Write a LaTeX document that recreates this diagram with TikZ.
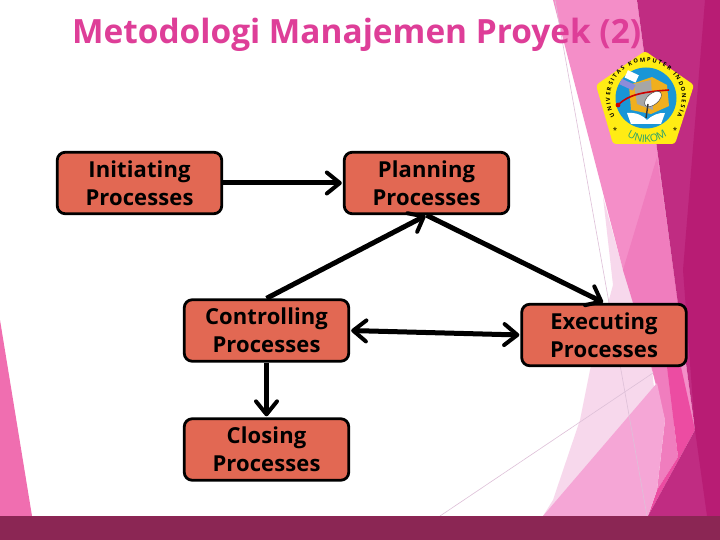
\documentclass[tikz,border=0pt]{standalone}
\usepackage{fontspec}
\setmainfont{Open Sans}
\newfontfamily\titlefont{Open Sans}
\newfontfamily\boxfont[LetterSpace=0.5]{Open Sans}
\usetikzlibrary{arrows.meta,decorations.text}
\definecolor{barc}{RGB}{139,38,84}
\definecolor{magA}{RGB}{192,44,130}
\definecolor{magB}{RGB}{184,28,116}
\definecolor{lightband}{RGB}{244,142,200}
\definecolor{lightbandB}{RGB}{240,125,190}
\definecolor{paleband}{RGB}{247,216,236}
\definecolor{midband}{RGB}{245,166,214}
\definecolor{hotband}{RGB}{236,76,162}
\definecolor{leftband}{RGB}{240,110,176}
\definecolor{hair}{RGB}{222,192,216}
\definecolor{titlec}{RGB}{222,62,152}
\definecolor{boxfill}{RGB}{226,104,83}
\definecolor{unigreen}{RGB}{40,160,110}
\definecolor{logoyellow}{RGB}{255,236,20}
\definecolor{logoblue}{RGB}{25,150,215}
\definecolor{logoorange}{RGB}{240,175,30}
\newcommand{\logotxt}{\fontsize{5.7}{6}\selectfont\bfseries}
\newcommand{\unikomtxt}{\fontsize{10.5}{10.5}\selectfont\color{unigreen}}
\tikzset{
  procbox/.style={draw=black,line width=2.8pt,fill=boxfill,rounded corners=8pt,
    minimum width=164.5pt,minimum height=61.5pt,inner sep=0pt,align=center,
    font=\boxfont\fontsize{22}{28}\selectfont\bfseries,text=black},
  barbtip/.tip={Straight Barb[length=13pt,width=21pt,line width=4pt,round]},
  flow/.style={line width=5pt,black,-barbtip,shorten >=1pt},
  hairline/.style={draw=hair,line width=0.6pt},
}
\begin{document}
\begin{tikzpicture}[x=1pt,y=-1pt]
\useasboundingbox (0,0) rectangle (720,540);
\fill[white] (0,0) rectangle (720,540);
% background facets
\fill[paleband] (603,197) -- (623,270) -- (633,300) -- (652,370) -- (660,440) -- (640,516) -- (543,516) -- (553,500) -- (580,420) -- (590,370) -- (613,285) -- cycle;
\fill[lightband] (553,0) -- (637,0) -- (695,430) -- (665,420) -- (652,370) -- (633,300) -- (623,270) -- cycle;
\fill[lightbandB] (657,157) -- (623,270) -- (633,303) -- (678,303) -- cycle;
\fill[lightbandB] (652,367) -- (667,367) -- (678,457) -- (657,490) -- (665,420) -- cycle;
\fill[hotband] (667,367) -- (681,367) -- (695,430) -- (648,516) -- (657,490) -- (678,457) -- cycle;
\fill[midband] (543,516) -- (657,383) -- (665,420) -- (657,490) -- (648,516) -- cycle;
\fill[magA] (637,0) -- (720,0) -- (720,516) -- (648,516) -- (695,430) -- cycle;
\fill[magB] (705,0) -- (720,0) -- (720,516) -- (707,516) -- (695,430) -- (683,270) -- cycle;
\fill[leftband] (0,320) -- (32,516) -- (0,516) -- cycle;
\draw[hairline] (555,0) -- (647,516);
\draw[hairline] (440,516) -- (653,373);
\fill[barc] (0,516) rectangle (720,540);
% title
\node[anchor=base west,inner sep=0pt,text=titlec,font=\titlefont\fontsize{33.4}{36}\selectfont\bfseries] (title) at (72,44) {Metodologi Manajemen Proyek (2)};
% logo
\fill[logoyellow,rounded corners=3pt] (645,51) -- (694,85) -- (675,144) -- (613,144) -- (596,85) -- cycle;
\fill[logoblue] (646,98) circle (30.5);
\fill[logoorange] (629,85) -- (652,77) -- (667,85) -- (669,106) -- (651,114) -- (631,110) -- cycle;
\fill[gray!70] (634,84) -- (651,80) -- (653,110) -- (637,104) -- cycle;
\fill[white] (627,113) .. controls (637,112) and (643,116) .. (647,120) .. controls (651,116) and (659,112) .. (665,113) -- (661,124) -- (631,124) -- cycle;
\draw[red!80!black,line width=1.6pt] (619,104) .. controls (629,95) and (641,92) .. (669,90);
\fill[red!80!black] (618,105) circle (2.4);
\fill[white,rotate around={-25:(630,80)}] (624,72) rectangle (636,80);
\fill[gray!50!blue!60!white,rotate around={-25:(626,84)}] (620,81) rectangle (635,87);
\fill[white,draw=black!70,line width=.5pt,rotate around={40:(653,99)}] (653,99) ellipse (10 and 5.5);
\draw[black!80,line width=1.4pt] (648,104) -- (646,118);
\path[decorate,decoration={text along path,text align=fit to path,text={|\logotxt|UNIVERSITAS KOMPUTER INDONESIA}}]
  (614.8,116) arc[start angle=150,end angle=390,radius=36];
\path[decorate,decoration={text along path,text align=center,text={|\unikomtxt|UNIKOM}}]
  (622,132) .. controls (634,146) and (660,146) .. (672,131);
\node[inner sep=0pt,font=\fontsize{8}{8}\selectfont] (starL) at (615,130) {*};
\node[inner sep=0pt,font=\fontsize{8}{8}\selectfont] (starR) at (675,130) {*};
% boxes
\node[procbox] (init) at (139.5,183) {Initiating\\Processes};
\node[procbox] (plan) at (426.5,183) {Planning\\Processes};
\node[procbox] (ctrl) at (266.5,330.5) {Controlling\\Processes};
\node[procbox] (clos) at (266.5,449.5) {Closing\\Processes};
\node[procbox] (exec) at (604,335) {Executing\\Processes};
% connectors
\draw[flow] (init) -- (plan);
\draw[flow] (plan.south) -- (exec.north);
\draw[flow] (ctrl.north) -- (plan.south);
\draw[flow,barbtip-barbtip,shorten <=1pt] (ctrl.east) -- (exec.west);
\draw[flow] (ctrl.south) -- (clos.north);
\end{tikzpicture}
\end{document}
